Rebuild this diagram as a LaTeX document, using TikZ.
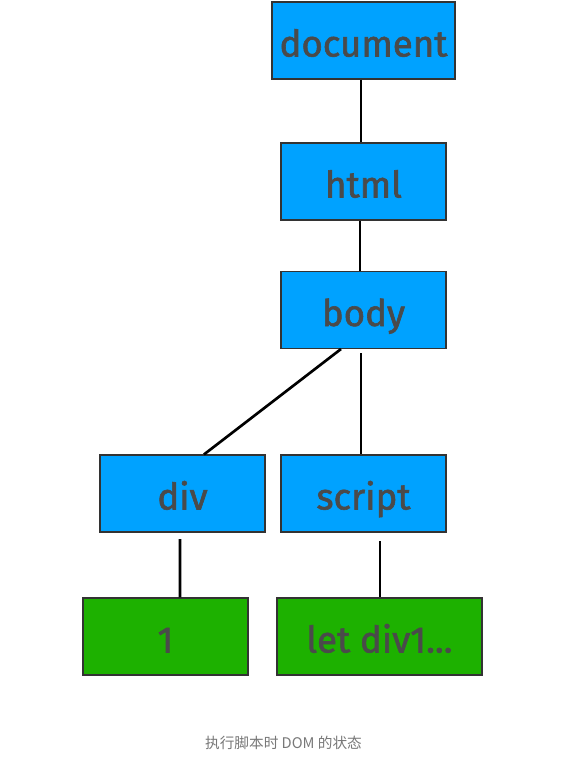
\documentclass[tikz,border=0pt]{standalone}
\usepackage{fontspec}
\setmainfont{Fira Sans}
\newfontfamily\boxfont[FakeBold=1.6]{Fira Sans}
\newfontfamily\cjk{Noto Sans CJK SC}
\definecolor{boxblue}{RGB}{0,162,255}
\definecolor{boxgreen}{RGB}{29,177,0}
\definecolor{txt}{RGB}{74,74,74}
\definecolor{cap}{RGB}{120,120,120}
\begin{document}
\begin{tikzpicture}[x=0.75pt,y=-0.75pt,
  domnode/.style={draw=black!80,line width=0.8pt,fill=boxblue,inner sep=0pt,
    minimum height=57.75pt,text height=24pt,text depth=0pt,text=txt,
    font=\boxfont\fontsize{27.5}{30}\selectfont},
  textnode/.style={domnode,fill=boxgreen},
  link/.style={line width=2pt,black}]
\useasboundingbox (0,0) rectangle (576,758);
\node[domnode,minimum width=137.25pt] (doc) at (363.5,40.5) {document};
\node[domnode,minimum width=123.75pt] (html) at (363.5,181.5) {html};
\node[domnode,minimum width=123.75pt] (body) at (363.5,310) {body};
\node[domnode,minimum width=123.75pt] (div) at (182.5,493.5) {div};
\node[domnode,minimum width=123.75pt] (script) at (363.5,493.5) {script};
\node[textnode,minimum width=123.75pt] (one) at (165.5,636.5) {1};
\node[textnode,minimum width=153.75pt] (let) at (379.5,636.5) {let div1...};
\draw[link] ([xshift=-1.9pt]doc.south) -- ([xshift=-1.9pt]html.north);
\draw[link] ([xshift=-2.6pt]html.south) -- ([xshift=-2.6pt]body.north);
\draw[link] ([xshift=-16.9pt]body.south) -- ([xshift=16.1pt]div.north);
\draw[link] ([xshift=-1.9pt,yshift=-3pt]body.south) -- ([xshift=-1.9pt]script.north);
\draw[link] ([xshift=-1.9pt,yshift=-5pt]div.south) -- ([xshift=10.9pt]one.north);
\draw[link] ([xshift=12.4pt,yshift=-6.5pt]script.south) -- ([xshift=0.4pt]let.north);
\node[text=cap,font=\cjk\fontsize{11}{13}\selectfont] (caption) at (283.5,743) {执行脚本时 DOM 的状态};
\end{tikzpicture}
\end{document}
